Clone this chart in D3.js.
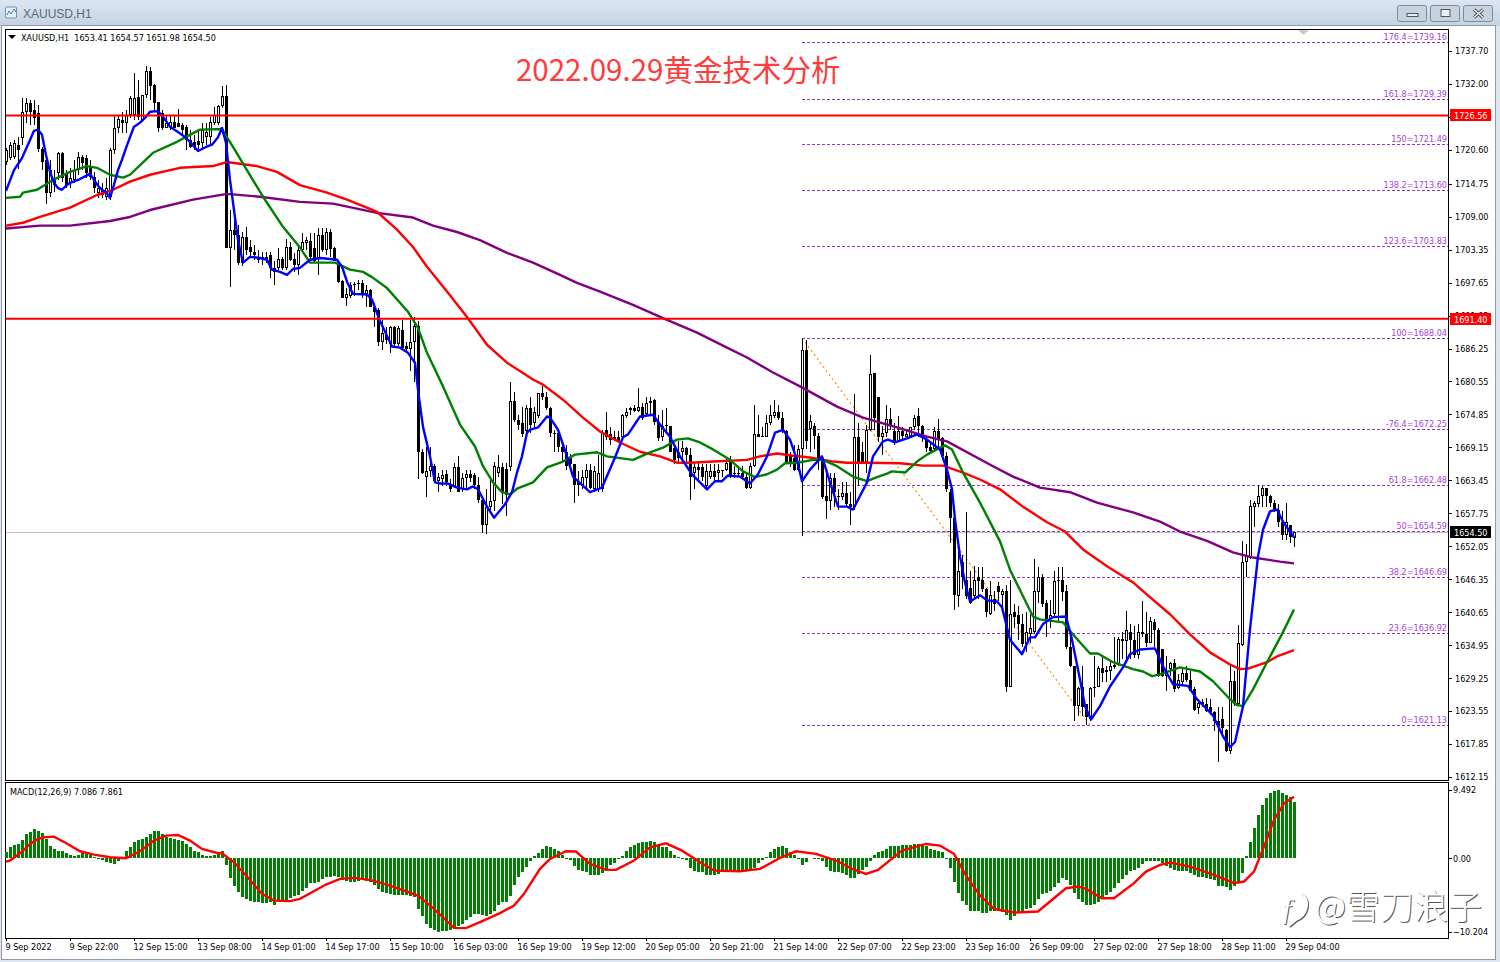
<!DOCTYPE html>
<html><head><meta charset="utf-8">
<style>html,body{margin:0;padding:0;background:#dde6f0;overflow:hidden}text{font-family:"DejaVu Sans Condensed","DejaVu Sans",sans-serif;font-stretch:condensed}</style>
<script src="https://cdn.jsdelivr.net/npm/d3@7/dist/d3.min.js"></script>
</head><body><svg id="c" width="1500" height="962"></svg>
<script>
const priceTicks=[1737.70,1732.00,1726.30,1720.60,1714.75,1709.00,1703.35,1697.65,1691.95,1686.25,1680.55,1674.85,1669.15,1663.45,1657.75,1652.05,1646.35,1640.65,1634.95,1629.25,1623.55,1617.85,1612.15];
const timeLabels=["9 Sep 2022","9 Sep 22:00","12 Sep 15:00","13 Sep 08:00","14 Sep 01:00","14 Sep 17:00","15 Sep 10:00","16 Sep 03:00","16 Sep 19:00","19 Sep 12:00","20 Sep 05:00","20 Sep 21:00","21 Sep 14:00","22 Sep 07:00","22 Sep 23:00","23 Sep 16:00","26 Sep 09:00","27 Sep 02:00","27 Sep 18:00","28 Sep 11:00","29 Sep 04:00"];
const fibNames=["176.4","161.8","150","138.2","123.6","100","-76.4","61.8","50","38.2","23.6","0"];
const fibValues=[1739.16,1729.39,1721.49,1713.60,1703.83,1688.04,1672.25,1662.48,1654.59,1646.69,1636.92,1621.13];
const resistanceLines=[1726.56,1691.40];
const lastPrice=1654.50;
// open, high, low, close per hourly bar
const ohlc=[
[1718.5,1720.9,1718.0,1720.6],[1719.2,1722.0,1718.9,1721.5],[1719.4,1722.3,1719.1,1721.8],[1721.5,1722.8,1717.3,1720.6],[1722.6,1729.6,1721.5,1727.2],[1727.2,1729.6,1725.3,1728.7],[1728.7,1729.2,1724.9,1727.2],[1727.5,1729.2,1724.9,1726.1],[1727.0,1728.4,1720.3,1720.8],[1720.8,1721.1,1717.1,1718.5],
[1718.9,1719.2,1711.3,1713.2],[1713.2,1718.9,1712.5,1717.1],[1715.4,1717.1,1713.3,1714.6],[1716.6,1720.3,1715.4,1720.1],[1720.1,1720.3,1715.1,1715.8],[1716.5,1717.1,1714.0,1714.6],[1714.9,1717.5,1714.0,1715.8],[1715.4,1718.9,1714.9,1717.1],[1717.1,1720.3,1716.3,1719.4],[1719.4,1719.7,1717.1,1718.4],
[1719.2,1719.7,1715.8,1716.6],[1717.7,1718.9,1715.4,1715.9],[1715.9,1716.8,1713.2,1714.0],[1713.2,1715.4,1712.3,1714.0],[1713.7,1714.9,1712.3,1712.8],[1712.5,1715.8,1712.0,1714.0],[1712.5,1720.9,1712.0,1720.6],[1720.6,1726.5,1719.9,1724.4],[1724.4,1726.6,1723.5,1726.0],[1725.8,1727.2,1723.5,1725.3],
[1725.3,1727.5,1723.5,1726.6],[1726.6,1729.9,1726.1,1729.6],[1726.6,1733.9,1725.8,1729.6],[1729.7,1732.7,1725.8,1726.3],[1725.8,1730.1,1725.4,1730.1],[1730.1,1735.1,1729.6,1734.2],[1734.2,1734.9,1729.2,1731.7],[1731.8,1732.0,1727.2,1728.7],[1728.9,1728.9,1723.7,1724.4],[1727.0,1727.5,1724.1,1724.4],
[1724.4,1726.6,1724.4,1725.3],[1724.4,1726.6,1724.1,1725.4],[1725.4,1726.5,1724.4,1724.4],[1725.3,1727.7,1724.6,1724.6],[1724.9,1725.3,1723.2,1724.1],[1724.6,1724.9,1720.6,1722.3],[1722.3,1724.1,1720.9,1721.1],[1722.0,1723.2,1720.6,1721.1],[1722.2,1724.1,1720.3,1721.5],[1721.8,1725.3,1720.6,1724.1],
[1722.8,1725.3,1721.5,1723.7],[1722.8,1726.3,1721.5,1725.4],[1725.3,1728.0,1724.9,1726.6],[1725.3,1728.4,1724.9,1728.2],[1728.2,1731.7,1727.9,1729.9],[1729.9,1731.8,1703.7,1703.7],[1703.7,1710.2,1696.9,1706.8],[1706.8,1709.4,1703.3,1705.9],[1705.9,1707.6,1700.7,1701.1],[1701.1,1706.4,1700.5,1705.6],
[1705.6,1707.3,1702.5,1703.3],[1703.8,1705.0,1701.9,1703.0],[1703.0,1704.2,1701.6,1702.5],[1702.1,1703.3,1701.1,1701.6],[1702.1,1703.0,1700.7,1701.9],[1702.1,1703.0,1701.1,1701.8],[1702.5,1703.0,1698.5,1700.2],[1699.5,1701.3,1697.3,1700.2],[1700.2,1703.7,1699.9,1701.8],[1701.8,1702.1,1699.9,1700.2],
[1700.2,1705.2,1699.9,1703.8],[1703.8,1704.7,1701.3,1701.6],[1701.8,1702.8,1699.5,1700.7],[1700.7,1704.2,1699.0,1703.3],[1703.3,1706.3,1702.8,1704.7],[1704.5,1705.6,1703.3,1705.0],[1704.9,1706.3,1701.6,1702.1],[1703.7,1706.3,1701.1,1701.3],[1701.9,1707.1,1699.0,1705.9],[1705.9,1707.1,1703.0,1703.3],
[1703.3,1707.1,1702.5,1706.4],[1706.4,1706.9,1702.1,1703.5],[1703.7,1703.8,1701.3,1701.4],[1701.1,1701.3,1697.6,1697.8],[1697.9,1698.1,1695.0,1695.0],[1695.0,1696.7,1693.6,1695.7],[1695.4,1697.8,1695.0,1697.3],[1697.4,1697.8,1695.4,1697.3],[1697.6,1698.1,1696.4,1697.4],[1697.6,1698.1,1695.0,1695.6],
[1695.6,1697.3,1693.5,1696.4],[1696.4,1696.6,1693.5,1693.5],[1693.5,1694.2,1690.0,1692.6],[1692.9,1693.3,1686.6,1687.4],[1687.4,1691.2,1686.0,1689.0],[1688.6,1690.0,1687.1,1687.8],[1687.1,1690.2,1685.5,1690.0],[1690.0,1690.2,1686.4,1687.1],[1687.1,1690.2,1686.6,1689.8],[1689.5,1691.2,1686.2,1686.4],
[1686.6,1687.4,1685.5,1686.2],[1686.2,1691.2,1682.3,1687.4],[1687.4,1691.7,1680.5,1690.2],[1690.2,1691.0,1663.6,1668.4],[1668.4,1668.8,1664.6,1664.8],[1664.1,1669.3,1660.5,1665.0],[1665.0,1669.3,1664.1,1665.9],[1665.9,1666.2,1663.1,1663.3],[1663.3,1664.8,1661.5,1664.1],[1663.6,1665.3,1662.4,1664.3],
[1664.5,1665.3,1662.4,1663.1],[1662.7,1663.6,1661.4,1661.9],[1662.4,1666.5,1662.2,1665.7],[1665.7,1667.6,1661.4,1661.5],[1661.9,1664.8,1661.5,1663.9],[1663.9,1665.3,1661.9,1664.5],[1664.5,1665.3,1663.1,1663.9],[1664.3,1664.8,1661.9,1662.7],[1662.7,1664.1,1659.6,1660.1],[1660.1,1660.1,1654.4,1655.8],
[1655.8,1661.9,1654.1,1658.8],[1658.9,1664.1,1658.1,1659.8],[1659.8,1666.7,1658.1,1666.0],[1664.8,1667.9,1664.1,1665.7],[1665.7,1666.5,1659.3,1661.4],[1665.5,1666.5,1657.2,1661.0],[1665.7,1680.4,1665.0,1677.2],[1677.2,1678.8,1673.6,1673.9],[1673.9,1674.8,1672.2,1673.1],[1673.3,1676.2,1671.0,1671.4],
[1671.9,1676.5,1671.7,1675.9],[1675.9,1677.8,1671.7,1673.1],[1673.3,1676.2,1672.7,1675.2],[1674.5,1678.6,1674.3,1678.5],[1678.6,1679.7,1677.4,1677.8],[1677.9,1678.8,1675.7,1675.9],[1676.0,1676.2,1671.0,1671.7],[1671.7,1672.2,1668.3,1671.4],[1671.7,1671.9,1668.4,1669.3],[1669.3,1669.6,1666.7,1668.4],
[1668.3,1669.6,1665.3,1665.9],[1667.4,1668.0,1665.3,1666.2],[1666.2,1666.2,1659.6,1662.7],[1663.1,1665.0,1660.7,1662.6],[1662.7,1665.3,1661.9,1664.1],[1663.9,1666.2,1661.9,1665.2],[1665.2,1666.2,1661.9,1662.2],[1661.9,1665.9,1661.5,1665.0],[1661.9,1667.9,1661.5,1664.8],[1661.9,1672.2,1661.5,1671.7],
[1672.2,1675.2,1670.5,1670.9],[1671.4,1672.6,1669.6,1670.5],[1671.0,1671.9,1670.2,1670.5],[1671.0,1671.9,1670.2,1670.3],[1671.0,1675.0,1670.9,1674.8],[1674.5,1676.0,1674.3,1675.2],[1676.0,1676.2,1674.8,1675.7],[1676.0,1676.4,1675.2,1675.5],[1675.5,1679.5,1675.3,1676.2],[1676.2,1676.9,1673.9,1674.3],
[1675.0,1677.9,1674.8,1676.9],[1677.1,1677.9,1674.8,1676.9],[1677.4,1677.6,1673.1,1673.6],[1673.6,1674.7,1670.2,1670.7],[1670.9,1675.7,1670.2,1672.9],[1673.1,1676.0,1671.9,1672.9],[1672.9,1672.9,1668.3,1668.4],[1669.1,1669.6,1666.2,1667.0],[1668.4,1670.2,1666.2,1667.4],[1668.3,1670.2,1666.2,1669.1],
[1669.1,1669.3,1666.7,1667.9],[1667.9,1669.1,1660.1,1664.1],[1664.8,1666.5,1661.9,1665.7],[1665.7,1666.5,1663.3,1665.3],[1665.7,1666.2,1663.3,1664.0],[1662.4,1666.2,1662.2,1665.0],[1664.1,1666.2,1663.6,1665.0],[1665.0,1666.2,1663.1,1664.1],[1664.8,1666.2,1663.3,1665.2],[1665.2,1665.3,1664.1,1665.0],
[1665.3,1667.4,1665.0,1666.5],[1666.7,1667.6,1663.9,1664.1],[1664.5,1665.9,1663.8,1664.8],[1664.8,1665.9,1664.1,1664.6],[1664.8,1665.9,1663.6,1664.1],[1664.1,1664.5,1661.9,1662.2],[1662.2,1666.5,1661.9,1665.9],[1665.9,1676.4,1665.7,1671.4],[1671.4,1674.8,1670.9,1670.9],[1671.2,1672.7,1671.0,1671.0],
[1671.0,1674.8,1670.9,1673.4],[1673.4,1676.5,1673.1,1674.7],[1674.5,1677.4,1674.3,1675.2],[1675.2,1676.5,1673.9,1674.3],[1674.3,1675.2,1671.7,1671.9],[1671.9,1672.2,1666.2,1666.5],[1667.9,1668.4,1665.7,1666.7],[1667.4,1669.6,1665.0,1665.3],[1665.3,1669.6,1665.0,1668.8],[1668.8,1688.04,1653.8,1686.0],
[1686.0,1687.8,1668.8,1670.2],[1672.4,1674.8,1668.4,1673.8],[1672.8,1673.4,1668.8,1671.2],[1671.2,1671.7,1665.3,1667.0],[1667.4,1667.7,1660.3,1660.5],[1660.7,1665.3,1656.7,1659.8],[1659.8,1664.8,1658.4,1663.9],[1663.9,1664.8,1658.9,1661.4],[1660.7,1661.9,1658.4,1660.5],[1660.5,1663.1,1660.1,1661.2],
[1661.2,1663.1,1658.9,1659.3],[1659.3,1661.4,1655.8,1658.9],[1658.8,1678.3,1658.4,1671.0],[1671.0,1673.4,1662.4,1666.5],[1668.4,1670.0,1666.5,1666.7],[1666.7,1673.1,1664.8,1672.2],[1672.2,1685.1,1671.9,1681.9],[1682.1,1682.1,1672.2,1674.3],[1677.9,1677.9,1670.0,1670.9],[1670.9,1672.9,1667.9,1671.7],
[1671.7,1676.4,1671.0,1674.1],[1674.1,1676.0,1672.2,1673.1],[1672.0,1673.4,1669.6,1669.9],[1670.2,1674.5,1670.0,1672.0],[1671.9,1672.7,1670.5,1671.2],[1671.0,1672.2,1671.0,1671.5],[1671.2,1672.7,1670.9,1672.6],[1672.6,1674.8,1672.2,1674.3],[1674.5,1676.0,1671.0,1672.8],[1672.8,1673.1,1670.0,1670.7],
[1670.5,1670.9,1668.4,1669.1],[1669.3,1670.2,1668.3,1668.6],[1668.8,1672.6,1668.4,1672.0],[1672.0,1674.1,1669.3,1670.5],[1670.7,1670.9,1667.0,1667.6],[1667.6,1668.3,1661.5,1661.9],[1661.5,1661.9,1652.7,1657.0],[1657.0,1657.0,1641.1,1643.6],[1643.4,1652.7,1641.5,1647.7],[1649.3,1650.5,1644.6,1646.8],
[1646.3,1657.9,1642.9,1643.4],[1644.9,1647.7,1642.0,1642.3],[1643.4,1648.7,1642.9,1646.3],[1646.7,1648.5,1642.9,1646.0],[1646.3,1648.5,1644.1,1644.6],[1644.6,1644.9,1639.9,1640.6],[1640.4,1646.0,1640.2,1643.7],[1642.9,1644.4,1640.8,1642.0],[1645.1,1645.8,1642.5,1644.1],[1643.7,1644.6,1640.8,1644.3],
[1644.3,1645.4,1626.8,1627.8],[1627.8,1646.3,1627.7,1640.4],[1640.6,1642.0,1638.0,1639.9],[1640.1,1641.7,1635.9,1638.6],[1638.6,1640.3,1634.6,1635.1],[1635.1,1640.6,1633.7,1637.2],[1636.8,1640.3,1635.4,1637.9],[1637.2,1649.8,1636.8,1644.3],[1644.1,1648.5,1642.3,1646.7],[1646.8,1647.2,1641.5,1642.0],
[1642.3,1642.7,1636.3,1639.4],[1639.4,1642.7,1638.0,1640.1],[1640.3,1647.7,1639.8,1646.1],[1646.3,1648.5,1638.9,1646.0],[1646.3,1648.5,1642.5,1644.1],[1644.3,1645.4,1634.2,1634.6],[1634.6,1637.5,1631.1,1631.3],[1631.3,1631.3,1621.8,1624.4],[1624.4,1627.8,1622.7,1627.5],[1627.8,1631.3,1622.7,1624.2],
[1624.7,1624.7,1621.2,1622.5],[1622.1,1627.8,1621.8,1627.5],[1627.5,1633.0,1625.9,1627.8],[1627.8,1631.3,1627.7,1631.0],[1631.0,1633.0,1628.5,1630.1],[1630.3,1631.3,1628.5,1630.6],[1630.4,1632.1,1629.0,1631.3],[1631.1,1636.4,1630.9,1631.6],[1631.6,1636.4,1631.3,1636.1],[1636.1,1637.2,1632.5,1635.6],
[1635.6,1640.8,1632.5,1637.5],[1637.2,1638.6,1632.5,1635.9],[1635.9,1638.2,1632.8,1633.2],[1633.2,1638.6,1632.5,1637.2],[1637.2,1642.5,1636.3,1636.8],[1636.8,1640.6,1634.7,1635.4],[1635.4,1639.9,1635.4,1639.1],[1638.9,1639.4,1634.7,1637.5],[1637.5,1637.9,1629.4,1629.6],[1634.2,1634.2,1629.4,1629.6],
[1629.6,1633.0,1627.0,1630.4],[1630.9,1632.1,1629.6,1631.8],[1631.8,1632.5,1626.9,1627.3],[1627.5,1629.9,1627.3,1629.0],[1628.5,1630.8,1628.1,1630.1],[1630.1,1631.3,1628.5,1629.0],[1629.0,1630.4,1627.0,1627.1],[1627.3,1627.7,1623.5,1623.7],[1624.0,1625.6,1623.0,1624.9],[1625.1,1625.6,1624.2,1624.7],
[1624.7,1625.8,1623.4,1623.5],[1624.2,1625.6,1622.8,1623.4],[1623.4,1623.5,1620.1,1621.8],[1621.8,1624.2,1614.7,1620.9],[1622.1,1624.2,1619.0,1620.6],[1620.2,1620.4,1616.4,1616.6],[1616.6,1631.7,1616.1,1628.7],[1628.7,1630.4,1624.4,1624.7],[1624.7,1638.4,1624.4,1635.3],[1635.0,1652.9,1634.8,1649.4],
[1649.4,1652.4,1646.8,1650.3],[1650.1,1660.0,1649.8,1659.0],[1658.8,1659.8,1655.3,1659.5],[1659.3,1662.7,1658.9,1660.7],[1660.7,1662.4,1658.9,1662.1],[1662.1,1662.2,1658.9,1660.7],[1660.7,1661.0,1658.8,1659.6],[1659.6,1660.1,1657.9,1658.4],[1658.4,1659.3,1655.3,1656.3],[1656.3,1658.1,1653.1,1654.0],
[1654.0,1659.6,1653.2,1656.3],[1655.8,1655.8,1652.7,1653.6],[1653.41,1654.57,1651.98,1654.50]];
// moving averages as [bar index, price]
const blueMA=[[0,1713.5],[2,1717.1],[4,1719.2],[6,1722.3],[7,1723.9],[8,1724.1],[9,1723.2],[10,1719.7],[11,1716.8],[12,1714.9],[13,1714.0],[14,1713.7],[15,1714.4],[16,1714.9],[18,1715.4],[20,1716.1],[21,1716.5],[22,1715.4],[23,1714.4],[24,1713.7],[25,1713.3],[26,1712.3],[27,1714.6],[28,1717.1],[29,1718.9],[30,1720.9],[31,1722.8],[32,1724.6],[33.5,1725.3],[35,1726.3],[36,1727.2],[38,1727.3],[39.5,1726.1],[41,1724.6],[43,1723.7],[45,1722.7],[46.5,1721.6],[48,1720.4],[50,1721.1],[51.5,1721.5],[53,1722.8],[54,1724.4],[55,1721.8],[56,1715.4],[57,1710.2],[58,1705.0],[59.25,1701.1],[61,1702.1],[63.5,1701.9],[65.25,1701.6],[66.5,1699.9],[68.5,1699.5],[70.25,1699.0],[71.75,1700.0],[73.5,1700.2],[76,1701.6],[78.5,1701.9],[82.75,1701.6],[84,1700.4],[85.25,1697.8],[86.75,1695.7],[90.25,1695.6],[91.5,1694.7],[93.5,1691.0],[96.5,1686.6],[98.5,1686.4],[100.5,1685.5],[102.25,1683.8],[103,1679.1],[104.25,1672.7],[106,1667.6],[107.25,1663.1],[108.5,1662.9],[110.5,1662.9],[112.75,1662.2],[115.25,1661.9],[116.75,1662.4],[118,1661.9],[120.25,1658.9],[122,1657.0],[124.75,1659.3],[126.5,1661.4],[127.75,1664.8],[129,1667.6],[130.25,1671.7],[131,1672.2],[133,1672.6],[135.25,1674.5],[136,1674.3],[138,1672.2],[140.25,1667.6],[141.75,1664.1],[146,1661.4],[149,1662.2],[152.25,1667.4],[154.25,1670.9],[155.5,1671.4],[158.5,1674.5],[161.75,1674.8],[163.5,1673.1],[166,1671.0],[168.5,1667.6],[171.5,1664.5],[175.25,1661.9],[177.25,1663.3],[179,1663.3],[180.5,1664.3],[183.5,1664.1],[186,1662.9],[188,1664.5],[190.25,1667.6],[192.25,1671.7],[194.25,1672.2],[196,1670.5],[197.75,1667.0],[199,1663.3],[201,1665.3],[204,1667.6],[206,1663.1],[208,1658.9],[210.25,1658.9],[211.75,1658.4],[215.25,1663.1],[216.75,1667.6],[219.25,1670.2],[220.5,1670.5],[222.25,1670.0],[225.25,1670.7],[227.75,1671.4],[230.25,1670.5],[233.5,1668.8],[235.25,1665.3],[236.5,1661.9],[237.25,1656.7],[238.5,1650.3],[239.75,1645.8],[241,1642.5],[243.5,1643.6],[245.25,1642.7],[247.75,1642.5],[249,1641.5],[251,1635.9],[254,1633.4],[256,1636.3],[257.25,1636.3],[259.25,1638.6],[261.75,1639.8],[265,1639.9],[266.5,1635.9],[268.5,1629.0],[269.75,1624.4],[271.25,1622.1],[273.5,1624.4],[276,1627.8],[279.25,1631.1],[281,1633.4],[283.5,1634.2],[287.25,1634.4],[289.25,1631.3],[291.75,1628.2],[295.5,1627.9],[297.75,1625.6],[301.75,1622.8],[304.25,1619.2],[306,1617.3],[307.25,1618.2],[309.25,1624.4],[311,1637.7],[313,1650.3],[314.25,1654.9],[316,1658.1],[317.75,1658.4],[319.25,1656.3],[322,1653.6]];
const greenMA=[[0,1712.3],[3.5,1712.5],[4.25,1713.2],[7.75,1713.7],[11.75,1715.4],[16,1716.8],[20.25,1717.8],[22.75,1717.5],[26,1716.3],[29.25,1715.8],[31,1716.3],[36.75,1720.1],[42.75,1722.0],[46,1723.2],[48.5,1724.1],[54,1724.2],[56.75,1721.1],[60.5,1716.8],[64.25,1712.5],[69.25,1707.3],[73.5,1703.7],[76,1701.1],[82.25,1701.1],[86,1699.9],[89.25,1699.5],[91.5,1698.6],[95.25,1696.7],[100.5,1692.6],[103,1689.8],[105.25,1685.5],[109.25,1679.7],[113.5,1673.1],[117.25,1669.3],[119.25,1665.9],[121.75,1663.1],[124,1661.4],[126,1661.0],[127.75,1662.0],[131.75,1663.1],[135.25,1665.7],[139.25,1666.7],[142.25,1667.9],[147.75,1668.3],[150.25,1667.6],[156.75,1667.0],[161,1668.3],[164.25,1669.1],[167.75,1670.5],[170.5,1670.7],[173.5,1670.0],[176.75,1668.8],[181,1667.0],[184.25,1665.0],[187.25,1664.0],[190.25,1664.5],[192.75,1665.3],[194.75,1666.4],[197.75,1666.5],[201.75,1667.0],[204.25,1667.0],[207.75,1665.9],[211.75,1664.1],[215.25,1663.3],[217.75,1664.0],[220.25,1664.6],[221.5,1665.0],[224.75,1664.8],[227.75,1666.7],[230.25,1667.9],[233.5,1669.1],[234.75,1669.5],[236.5,1668.8],[239.25,1664.8],[243.5,1659.6],[248.5,1652.9],[251,1648.0],[254.25,1643.4],[256.75,1639.9],[258.5,1639.4],[264.25,1638.9],[266.75,1636.8],[271,1633.5],[273,1633.5],[276.75,1632.0],[281.75,1630.8],[284.25,1630.4],[286.5,1629.6],[288.5,1629.9],[293.5,1631.1],[298.5,1630.4],[301.75,1628.7],[306,1625.6],[307.75,1624.6],[309.25,1624.4],[311.75,1627.3],[315.25,1632.0],[319.25,1637.2],[322,1641.1]];
const redMA=[[0,1707.5],[4.25,1708.0],[8.5,1709.0],[16,1710.6],[22.75,1712.8],[26.75,1713.7],[31,1715.1],[36,1716.3],[43.5,1717.5],[51.75,1717.8],[55.25,1718.5],[62.75,1717.8],[67.75,1716.8],[73.5,1714.5],[80.25,1713.2],[85.25,1712.0],[91,1710.4],[92.75,1709.9],[97.75,1706.8],[101.75,1703.8],[105.25,1700.4],[110.25,1696.1],[115.25,1691.7],[118.5,1688.6],[120.25,1686.9],[125.25,1683.8],[131.75,1680.9],[134.25,1680.0],[139.25,1677.4],[144.25,1674.3],[148.5,1671.9],[153.5,1670.0],[158.5,1668.4],[163.5,1667.6],[167.75,1666.5],[171,1666.5],[176.75,1666.7],[185.25,1667.0],[188.5,1667.6],[192.75,1668.1],[196.75,1667.7],[201,1667.4],[206.75,1666.7],[210.25,1666.5],[215.25,1666.5],[223.5,1666.4],[229.25,1666.0],[234.25,1666.0],[239.25,1664.8],[243.5,1663.6],[248.5,1661.9],[254.25,1658.9],[260.25,1656.2],[264.75,1654.6],[269.25,1651.5],[275.25,1648.6],[281.75,1645.8],[285.25,1643.7],[291,1640.3],[296,1636.8],[301,1633.7],[306,1631.6],[308.5,1630.8],[310.5,1630.9],[315.25,1632.0],[317.75,1633.0],[322,1634.1]];
const purpleMA=[[0,1707.0],[8.5,1707.5],[16,1707.5],[26,1708.3],[31,1709.0],[36,1710.2],[46.75,1712.0],[55.25,1713.0],[63.5,1712.5],[73.5,1711.6],[81.75,1711.3],[92.75,1709.7],[101.75,1708.9],[106.75,1707.5],[112.75,1706.4],[118.5,1705.0],[125.25,1702.8],[131.75,1701.1],[138.5,1699.0],[142.75,1697.6],[148.5,1696.1],[156.75,1693.8],[165.25,1691.2],[172.75,1689.0],[180.25,1686.4],[185.25,1684.7],[191.75,1682.1],[198.5,1679.7],[207.75,1676.2],[214.25,1674.3],[222.75,1672.6],[230.25,1671.0],[235.25,1670.2],[246.75,1665.9],[251.75,1664.1],[258.5,1662.2],[266,1661.4],[272.75,1659.6],[281.75,1657.9],[288.5,1656.3],[293.5,1654.6],[300.25,1653.0],[306.75,1651.0],[311.75,1650.1],[318.5,1649.4],[322,1649.1]];
const macdHist=[.93,1.53,1.9,2.0,2.6,3.4,3.7,4.07,3.84,3.47,2.7,1.76,1.3,1.06,.97,.7,.5,.37,.5,.7,.7,.5,.14,-.05,-.23,-.46,-.7,-.79,-.32,.23,1.06,1.62,2.22,2.55,2.64,2.92,3.38,3.75,3.84,3.38,2.92,2.82,2.69,2.55,2.36,1.99,1.53,1.06,.83,.51,.37,.37,.51,.69,1.06,-.88,-2.78,-3.8,-4.72,-5.42,-5.65,-5.88,-6.11,-6.11,-6.25,-6.25,-6.11,-6.44,-5.97,-5.79,-5.79,-5.51,-5.32,-5.05,-4.49,-4.12,-3.47,-3.47,-3.33,-2.87,-2.64,-2.55,-2.41,-2.64,-3.01,-3.1,-3.33,-3.24,-3.19,-3.01,-3.19,-3.24,-3.66,-4.26,-4.63,-4.81,-4.95,-5.05,-5.05,-5.05,-5.05,-5.19,-5.42,-7.04,-8.1,-9.21,-9.68,-9.95,-10.28,-10.19,-10.14,-9.95,-9.58,-9.49,-9.21,-8.66,-8.19,-7.82,-7.82,-7.96,-8.1,-7.73,-7.36,-6.57,
-6.11,-6.02,-5.19,-3.66,-2.55,-1.85,-1.16,-.42,.37,.69,1.3,1.76,1.62,1.3,.97,.51,-.05,-.23,-1.02,-1.62,-1.71,-1.94,-2.27,-2.27,-2.27,-2.08,-1.48,-.88,-.65,-.09,.37,.97,1.53,1.9,2.08,2.22,2.31,2.45,2.22,1.9,1.62,1.53,1.06,.51,.14,-.14,-.19,-1.39,-1.81,-1.94,-1.94,-2.27,-2.27,-2.27,-2.18,-1.81,-1.71,-1.62,-1.62,-1.62,-1.62,-1.62,-1.62,-1.34,-.69,-.23,.23,.93,1.3,1.62,1.76,1.39,.83,.51,-.14,-.97,-.56,.05,-.05,-.14,-.42,-1.25,-1.71,-1.85,-1.94,-2.08,-2.31,-2.73,-2.78,-2.18,-1.62,-1.16,-.32,.51,.93,1.06,1.3,1.76,1.76,1.76,1.9,1.9,1.9,1.99,1.99,1.9,1.67,1.3,1.2,1.06,.83,-.09,-1.39,-3.33,-4.86,-5.88,-6.57,-7.27,-7.36,-7.36,-7.64,-7.64,-7.36,-7.27,-7.27,
-7.41,-7.96,-8.66,-8.1,-7.41,-7.41,-7.08,-6.94,-6.48,-5.65,-4.95,-4.86,-4.49,-3.94,-3.38,-2.78,-3.01,-3.7,-4.86,-5.65,-6.02,-6.48,-6.57,-6.39,-6.02,-5.56,-5.09,-4.63,-4.17,-3.47,-2.92,-2.31,-1.76,-1.62,-1.39,-.79,-.37,-.37,-.37,-.37,-.69,-1.06,-1.3,-1.62,-1.76,-1.76,-1.71,-1.99,-2.31,-2.55,-2.55,-2.78,-2.92,-3.01,-3.84,-3.84,-4.03,-4.4,-3.84,-3.38,-2.08,.32,2.31,4.26,6.02,7.41,8.33,9.03,9.35,9.49,9.03,8.8,8.47,7.82];
const macdSignal=[[0,-.46],[1,-.32],[4.3,1.06],[6,2.0],[8,2.69],[9.5,2.92],[12,3.0],[15,2.13],[18.5,.97],[22,.51],[26,.14],[30,0],[33.5,.97],[37,2.45],[40,3.15],[43,3.24],[46,2.45],[49,1.3],[53,.69],[54,.69],[57,-.56],[60,-2.41],[64,-4.95],[67,-5.88],[71,-5.97],[73.5,-5.65],[80,-3.66],[83.5,-2.87],[87,-2.73],[91,-3.01],[96,-3.8],[103,-5.19],[107,-7.04],[112,-9.68],[115,-9.72],[118.5,-8.89],[123.5,-7.64],[127,-6.57],[129.5,-4.95],[133.5,-1.48],[136,-.09],[140,.97],[142.5,.93],[146,-.79],[150,-1.62],[152.5,-1.62],[157,-.32],[161,1.53],[165,2.08],[169,1.06],[173.5,-.56],[177,-1.71],[183.5,-1.81],[188.5,-1.48],[193.5,.05],[197.5,.97],[202.5,.6],[207.5,-.32],[211.5,-1.48],[215,-2.18],[218,-1.62],[224,1.06],[230,1.99],[233.5,1.76],[237,.6],[240,-2.41],[243.5,-5.19],[247,-7.04],[248.5,-7.2],[252,-7.55],[258,-7.41],[261,-6.02],[265,-4.17],[268,-3.94],[270,-4.26],[274,-5.56],[277,-5.56],[282,-3.47],[285,-1.85],[288.5,-.93],[291,-.6],[296,-1.16],[302,-2.31],[307,-3.47],[309.5,-3.24],[312,-1.85],[314.5,1.62],[317,5.32],[319.5,7.64],[322,8.56]];

const svg=d3.select("#c");
const x=d3.scaleLinear().domain([0,322]).range([6,1294]);
const y=d3.scaleLinear().domain([1737.7,1612.15]).range([51,777]);
const m=d3.scaleLinear().domain([9.492,-10.204]).range([790,931.6]);
const FS=9;
// window chrome
const defs=svg.append("defs");
const g=defs.append("linearGradient").attr("id","tb").attr("x1",0).attr("x2",0).attr("y1",0).attr("y2",1);
g.append("stop").attr("offset",0).attr("stop-color","#dbe6f1");g.append("stop").attr("offset",1).attr("stop-color","#c3d3e4");
svg.append("rect").attr("width",1500).attr("height",962).attr("fill","#dde6f0");
svg.append("rect").attr("width",1500).attr("height",26).attr("fill","url(#tb)");
svg.append("rect").attr("x",1).attr("y",25).attr("width",1494).attr("height",934).attr("fill","#fff").attr("stroke","#8f9aa5").attr("shape-rendering","crispEdges");
svg.append("rect").attr("x",5.5).attr("y",7).attr("width",11).attr("height",11).attr("rx",1).attr("fill","#e6eef6").attr("stroke","#6f94bb");
svg.append("path").attr("d","M7 15 l2-4 2 3 3-5 2 3").attr("fill","none").attr("stroke","#3f7fbf");
svg.append("text").attr("x",23).attr("y",18).attr("font-size",12).attr("fill","#5d6a76").style("font-family",'"Liberation Sans"').text("XAUUSD,H1");
[[1398,"min"],[1431,"max"],[1464,"close"]].forEach(([bx,k])=>{
 svg.append("rect").attr("x",bx-.5).attr("y",5.5).attr("width",29).attr("height",16).attr("rx",2).attr("fill","#c5d2e0").attr("stroke","#7e8a96");
 if(k=="min")svg.append("rect").attr("x",bx+9).attr("y",13.5).attr("width",11).attr("height",3).attr("fill","#e8eef5").attr("stroke","#555");
 if(k=="max")svg.append("rect").attr("x",bx+10).attr("y",9.5).attr("width",9).attr("height",7).attr("fill","#e8eef5").attr("stroke","#555");
 if(k=="close"){svg.append("path").attr("d",`M${bx+10} 9.5 l9 8 M${bx+19} 9.5 l-9 8`).attr("stroke","#555").attr("stroke-width",3.2);
 svg.append("path").attr("d",`M${bx+10} 9.5 l9 8 M${bx+19} 9.5 l-9 8`).attr("stroke","#eef2f6").attr("stroke-width",1.2);}
});
// pane frames
const frame=svg.append("g").attr("shape-rendering","crispEdges").attr("fill","none").attr("stroke","#000");
frame.append("rect").attr("x",5.5).attr("y",29.5).attr("width",1443).attr("height",751);
frame.append("rect").attr("x",5.5).attr("y",782.5).attr("width",1443).attr("height",156);
const plot=svg.append("g");
// last price line
plot.append("line").attr("x1",6).attr("x2",1448).attr("y1",y(lastPrice)).attr("y2",y(lastPrice)).attr("stroke","#c0c0c0").attr("shape-rendering","crispEdges");
// fibonacci
plot.append("g").selectAll("line").data(fibValues).join("line").attr("x1",x(199)).attr("x2",1448).attr("y1",d=>Math.floor(y(d))+.5).attr("y2",d=>Math.floor(y(d))+.5).attr("stroke","#9932CC").attr("stroke-dasharray","3 2").attr("shape-rendering","crispEdges");
plot.append("line").attr("x1",x(199)).attr("y1",y(1688.04)).attr("x2",x(271)).attr("y2",y(1621.13)).attr("stroke","#ff8c00").attr("stroke-width",1.2).attr("stroke-dasharray","2 3");
plot.append("g").selectAll("text").data(fibValues).join("text").attr("x",1447).attr("y",d=>y(d)-2.5).attr("text-anchor","end").attr("font-size",FS).attr("fill","#a63fd8").text((d,i)=>fibNames[i]+"="+d.toFixed(2));
// candles
const cg=plot.append("g").attr("shape-rendering","crispEdges");
cg.selectAll(".w").data(ohlc).join("rect").attr("x",(d,i)=>x(i)).attr("width",1).attr("y",d=>y(d[1])).attr("height",d=>Math.max(1,y(d[2])-y(d[1]))).attr("fill","#000");
cg.selectAll(".b").data(ohlc).join("rect").attr("x",(d,i)=>x(i)-1).attr("width",3).attr("y",d=>y(Math.max(d[0],d[3]))).attr("height",d=>Math.max(1,Math.abs(y(d[0])-y(d[3])))).attr("fill","#000");
cg.selectAll(".h").data(ohlc.map((d,i)=>[d,i]).filter(([d])=>d[3]>d[0])).join("rect").attr("x",([d,i])=>x(i)).attr("width",1).attr("y",([d])=>y(d[3])+1).attr("height",([d])=>Math.max(0,y(d[0])-y(d[3])-2)).attr("fill","#fff");
// moving averages
const line=d3.line().x(d=>x(d[0])).y(d=>y(d[1]));
[[purpleMA,"#800080"],[redMA,"#ff0000"],[greenMA,"#008000"],[blueMA,"#0000ff"]].forEach(([d,c])=>{
 plot.append("path").attr("d",line(d)).attr("fill","none").attr("stroke",c).attr("stroke-width",2.4).attr("stroke-linejoin","round");
});
// horizontal lines
plot.append("g").selectAll("line").data(resistanceLines).join("line").attr("x1",6).attr("x2",1448).attr("y1",d=>y(d)).attr("y2",d=>y(d)).attr("stroke","#ff0000").attr("stroke-width",2);
// axes
const ay=svg.append("g").attr("transform","translate(1449,0)").call(d3.axisRight(y).tickValues(priceTicks).tickSize(3).tickPadding(3).tickFormat(d3.format(".2f")));
ay.select(".domain").remove();
const my=svg.append("g").attr("transform","translate(1449,0)").call(d3.axisRight(m).tickValues([9.492,0,-10.204]).tickSize(3).tickPadding(1).tickFormat(d=>d==0?"0.00":d3.format(".3f")(d)));
my.select(".domain").remove();
const ax=svg.append("g").attr("transform","translate(0,938)").call(d3.axisBottom(x).tickValues(timeLabels.map((d,i)=>i*16)).tickSize(3).tickPadding(3).tickFormat((d,i)=>timeLabels[i]));
ax.select(".domain").remove();
ax.selectAll("text").attr("text-anchor","start").attr("dx",-1);
[ay,my,ax].forEach(a=>{a.attr("font-family",null).attr("font-size",FS);a.selectAll("text").attr("fill","#000");a.selectAll("line").attr("stroke","#000").attr("shape-rendering","crispEdges")});
// price tags
const tags=[[1726.56,"#ff0000"],[1691.40,"#ff0000"],[1654.50,"#000"]];
const tg=svg.append("g").selectAll("g").data(tags).join("g");
tg.append("rect").attr("x",1450).attr("y",d=>Math.round(y(d[0]))-6).attr("width",41).attr("height",12).attr("fill",d=>d[1]);
tg.append("text").attr("x",1454).attr("y",d=>Math.round(y(d[0]))+3.5).attr("font-size",FS).attr("fill","#fff").text(d=>d[0].toFixed(2));
// headers
svg.append("path").attr("d","M8 35 h8 l-4 4z").attr("fill","#000");
svg.append("text").attr("x",21).attr("y",41).attr("font-size",FS).attr("fill","#000").attr("xml:space","preserve").text("XAUUSD,H1  1653.41 1654.57 1651.98 1654.50");
svg.append("path").attr("d","M1298 30 h11 l-5.5 5z").attr("fill","#c8c8c8");
svg.append("text").attr("x",516).attr("y",81).attr("font-size",29.5).attr("fill","#ff3b3b").style("font-family",'"Noto Sans CJK SC"').text("2022.09.29黄金技术分析");
// MACD
const mg=svg.append("g").attr("shape-rendering","crispEdges");
mg.selectAll("rect").data(macdHist).join("rect").attr("x",(d,i)=>x(i)-1).attr("width",3).attr("y",d=>Math.min(m(d),m(0))).attr("height",d=>Math.abs(m(d)-m(0))).attr("fill","#008000");
svg.append("path").attr("d",d3.line().x(d=>x(d[0])).y(d=>m(d[1]))(macdSignal)).attr("fill","none").attr("stroke","#ff0000").attr("stroke-width",2.4);
svg.append("text").attr("x",10).attr("y",795).attr("font-size",FS).attr("fill","#000").text("MACD(12,26,9) 7.086 7.861");
// watermark
const wm=svg.append("g");
[[1,1,"#555"],[0,0,"#fff"]].forEach(([dx,dy,c])=>{
 wm.append("text").attr("x",1315+dx).attr("y",919+dy).attr("font-size",34).attr("font-weight",300).attr("fill",c).style("font-family",'"Noto Sans CJK SC"').text("@雪刀浪子");
 wm.append("text").attr("x",1283+dx).attr("y",918+dy).attr("font-size",28).attr("font-style","italic").attr("fill",c).style("font-family",'"Liberation Serif"').text("f");
 wm.append("path").attr("d","M1301 893 C1311 900 1308 915 1296 920 L1289 926").attr("transform",`translate(${dx},${dy})`).attr("fill","none").attr("stroke",c).attr("stroke-width",2);
});
</script></body></html>
